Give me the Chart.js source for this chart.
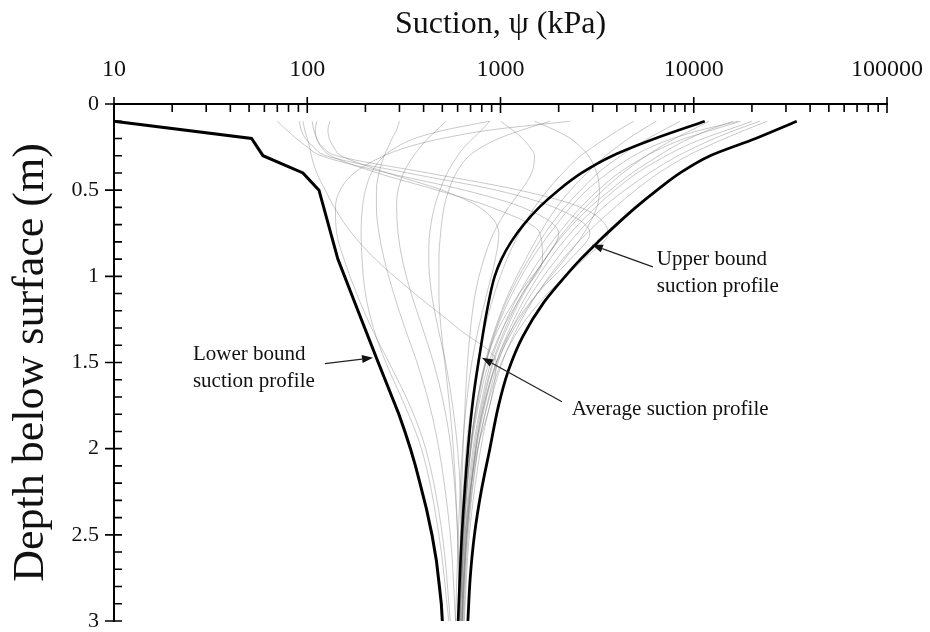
<!DOCTYPE html>
<html>
<head>
<meta charset="utf-8">
<script src="https://cdn.jsdelivr.net/npm/chart.js@4/dist/chart.umd.min.js"></script>
<style>
  html, body { margin: 0; padding: 0; background: #fff; }
  #wrap { width: 930px; height: 632px; position: relative; }
</style>
</head>
<body>
<div id="wrap"><canvas id="c"></canvas></div>
<script>
// Suction (kPa) versus depth (m) profiles.
const xTickValues = [10, 100, 1000, 10000, 100000];
const yTickValues = [0, 0.5, 1, 1.5, 2, 2.5, 3];

// Lower bound envelope
const lowerDepth   = [0.1, 0.2, 0.3, 0.4, 0.5, 0.9, 1.2, 1.5, 1.8, 1.9, 2.0, 2.1, 2.2, 2.35, 2.5, 2.65, 2.8, 2.9, 3.0];
const lowerSuction = [10, 51.5, 59, 95, 115, 144, 183, 233, 298, 320, 342, 363, 383, 414, 442, 466, 483, 494, 500];

// Average profile
const avgDepth   = [0.1, 0.2, 0.3, 0.4, 0.5, 0.6, 0.7, 0.8, 0.9, 1.0, 1.2, 1.4, 1.7, 2.0, 2.5, 3.0];
const avgSuction = [11400, 6310, 3800, 2630, 1995, 1585, 1318, 1135, 1012, 933, 851, 794, 724, 679, 631, 603];

// Upper bound envelope
const upperDepth   = [0.1, 0.2, 0.3, 0.4, 0.5, 0.6, 0.7, 0.8, 0.9, 1.0, 1.15, 1.35, 1.55, 1.75, 2.0, 2.25, 2.5, 2.75, 3.0];
const upperSuction = [34120, 20890, 12160, 8510, 6457, 5012, 3981, 3199, 2600, 2163, 1679, 1303, 1096, 977, 881, 794, 733, 697, 678];

// Individual computed profiles, all sampled at the same depths
const profileDepth = [0.1, 0.15, 0.2, 0.25, 0.3, 0.4, 0.5, 0.6, 0.75, 0.9, 1.1, 1.3, 1.5, 1.75, 2.0, 2.5, 3.0];
const profiles = [
  [24000, 18500, 14500, 11500, 9300, 6600, 5000, 3900, 2800, 2100, 1550, 1220, 1020, 880, 790, 690, 650],
  [20000, 15000, 11200, 8800, 7200, 5100, 3900, 3100, 2300, 1800, 1380, 1120, 950, 830, 750, 670, 635],
  [17500, 12500, 9000, 7000, 5700, 4100, 3200, 2600, 2000, 1600, 1250, 1030, 890, 790, 720, 655, 625],
  [17000, 11000, 7800, 6000, 4900, 3600, 2800, 2300, 1800, 1450, 1150, 960, 840, 750, 700, 645, 620],
  [16000, 12000, 9500, 7800, 6600, 4800, 3700, 2900, 2150, 1700, 1300, 1060, 910, 800, 730, 660, 630],
  [8500, 7000, 5800, 4900, 4200, 3200, 2600, 2150, 1700, 1400, 1120, 950, 840, 760, 700, 645, 615],
  [6400, 5400, 4600, 4000, 3500, 2800, 2300, 1950, 1600, 1350, 1100, 940, 830, 750, 695, 640, 612],
  [4900, 4100, 3500, 3000, 2600, 2100, 1750, 1500, 1250, 1080, 930, 830, 760, 705, 665, 625, 600],
  [12000, 9800, 8000, 6700, 5700, 4300, 3400, 2750, 2100, 1700, 1320, 1080, 920, 810, 740, 665, 632],
  [22000, 16500, 12800, 10200, 8300, 5900, 4400, 3400, 2500, 1950, 1450, 1150, 970, 850, 765, 680, 645],
  [300, 290, 275, 262, 250, 235, 228, 228, 235, 250, 280, 320, 370, 430, 480, 550, 585],
  [520, 470, 420, 385, 355, 315, 295, 290, 295, 310, 345, 395, 450, 510, 555, 600, 615],
  [880, 800, 720, 650, 600, 530, 485, 455, 430, 425, 440, 475, 520, 565, 600, 630, 635],
  [880, 520, 360, 290, 250, 215, 200, 193, 190, 192, 200, 220, 255, 320, 390, 480, 540],
  [1800, 1300, 980, 800, 690, 590, 540, 510, 490, 480, 480, 492, 515, 545, 570, 600, 610],
  [2300, 900, 500, 330, 250, 175, 148, 140, 142, 155, 180, 215, 265, 340, 410, 500, 550],
  [1000, 1150, 1300, 1420, 1500, 1450, 1280, 1100, 920, 820, 740, 700, 675, 655, 640, 620, 605],
  [1500, 1900, 2300, 2600, 2850, 3150, 3250, 3150, 2700, 2150, 1550, 1180, 960, 820, 745, 670, 640],
  [70, 78, 88, 100, 118, 260, 650, 1300, 2000, 1700, 1250, 980, 840, 750, 700, 640, 612],
  [91, 93, 98, 108, 125, 330, 950, 1900, 2900, 2300, 1550, 1150, 950, 820, 745, 665, 628],
  [106, 108, 112, 118, 132, 230, 470, 900, 1600, 1650, 1300, 1030, 870, 770, 705, 648, 616],
  [112, 110, 112, 120, 142, 420, 1250, 2600, 3600, 2700, 1750, 1260, 1010, 855, 765, 672, 632],
  [131, 128, 130, 137, 150, 260, 500, 780, 980, 940, 850, 770, 710, 665, 635, 605, 585],
  [95, 97, 100, 103, 105, 112, 124, 138, 170, 225, 360, 600, 950, 880, 760, 655, 614]
];

const FONT = '"Liberation Serif", "Times New Roman", "DejaVu Serif", serif';
const INK = '#111';

const pairs = (xs, ys) => xs.map((v, i) => ({ x: v, y: ys[i] }));

// Labelled arrows: text anchor, arrow tail and arrow tip in data units
const callouts = [
  { lines: ['Lower bound', 'suction profile'], at: [25.6, 1.455], tail: [123.5, 1.507], tip: [219, 1.472] },
  { lines: ['Upper bound', 'suction profile'], at: [6440, 0.904], tail: [6140, 0.945], tip: [2970, 0.817] },
  { lines: ['Average suction profile'], at: [2340, 1.774], tail: [2080, 1.728], tip: [802, 1.472] }
];

// Major ticks crossing the axes, minor ticks pointing into the plot
const axisTicks = {
  id: 'axisTicks',
  afterDraw(chart) {
    const { ctx, chartArea: a } = chart;
    const xs = chart.scales.x, ys = chart.scales.y;
    ctx.save();
    ctx.strokeStyle = '#000';
    ctx.lineWidth = 1.6;
    ctx.beginPath();
    for (let e = 1; e <= 5; e++) {
      for (let k = 1; k <= 9; k++) {
        const v = k * Math.pow(10, e);
        if (v > 100000) break;
        const px = xs.getPixelForValue(v);
        if (k === 1) { ctx.moveTo(px, a.top - 7); ctx.lineTo(px, a.top + 9); }
        else { ctx.moveTo(px, a.top); ctx.lineTo(px, a.top + 8); }
      }
    }
    for (let i = 0; i <= 30; i++) {
      const d = i / 10;
      const py = ys.getPixelForValue(d);
      if (i % 5 === 0) { ctx.moveTo(a.left - 9, py); ctx.lineTo(a.left + 8, py); }
      else { ctx.moveTo(a.left, py); ctx.lineTo(a.left + 8, py); }
    }
    ctx.stroke();
    ctx.restore();
  }
};

const arrowNotes = {
  id: 'arrowNotes',
  afterDatasetsDraw(chart) {
    const { ctx } = chart;
    const xs = chart.scales.x, ys = chart.scales.y;
    ctx.save();
    ctx.fillStyle = INK;
    ctx.strokeStyle = '#222';
    ctx.lineWidth = 1.3;
    ctx.font = '21px ' + FONT;
    ctx.textAlign = 'left';
    ctx.textBaseline = 'middle';
    callouts.forEach(c => {
      const tx = xs.getPixelForValue(c.at[0]);
      const ty = ys.getPixelForValue(c.at[1]);
      c.lines.forEach((t, i) => ctx.fillText(t, tx, ty + i * 27));
      const x0 = xs.getPixelForValue(c.tail[0]), y0 = ys.getPixelForValue(c.tail[1]);
      const x1 = xs.getPixelForValue(c.tip[0]), y1 = ys.getPixelForValue(c.tip[1]);
      const ang = Math.atan2(y1 - y0, x1 - x0);
      const hl = 11, hw = 4;
      const bx = x1 - hl * Math.cos(ang), by = y1 - hl * Math.sin(ang);
      ctx.beginPath();
      ctx.moveTo(x0, y0);
      ctx.lineTo(bx, by);
      ctx.stroke();
      ctx.beginPath();
      ctx.moveTo(x1, y1);
      ctx.lineTo(bx + hw * Math.sin(ang), by - hw * Math.cos(ang));
      ctx.lineTo(bx - hw * Math.sin(ang), by + hw * Math.cos(ang));
      ctx.closePath();
      ctx.fill();
    });
    ctx.restore();
  }
};

const datasets = profiles.map(p => ({
  data: pairs(p, profileDepth),
  borderColor: 'rgba(120,120,120,0.5)',
  borderWidth: 0.8,
  pointRadius: 0,
  cubicInterpolationMode: 'monotone',
  clip: false,
  order: 1
}));
datasets.push(
  { data: pairs(lowerSuction, lowerDepth), borderColor: '#000', borderWidth: 3, pointRadius: 0, tension: 0, clip: false, order: 0 },
  { data: pairs(avgSuction, avgDepth), borderColor: '#000', borderWidth: 2.6, pointRadius: 0, cubicInterpolationMode: 'monotone', clip: false, order: 0 },
  { data: pairs(upperSuction, upperDepth), borderColor: '#000', borderWidth: 2.8, pointRadius: 0, cubicInterpolationMode: 'monotone', clip: false, order: 0 }
);

new Chart(document.getElementById('c'), {
  type: 'line',
  data: { datasets },
  plugins: [axisTicks, arrowNotes],
  options: {
    responsive: true,
    maintainAspectRatio: false,
    animation: false,
    events: [],
    indexAxis: 'y',
    layout: { padding: { left: 0, top: 0, right: 43, bottom: 11 } },
    plugins: { legend: { display: false }, tooltip: { enabled: false } },
    scales: {
      x: {
        type: 'logarithmic',
        position: 'top',
        min: 10,
        max: 100000,
        afterBuildTicks: s => { s.ticks = xTickValues.map(v => ({ value: v })); },
        afterFit: s => { s.height = 104; s.paddingLeft = 0; s.paddingRight = 0; },
        ticks: { callback: v => String(v), font: { family: FONT, size: 24 }, color: INK, padding: 20, maxRotation: 0, autoSkip: false },
        grid: { display: false, drawTicks: false },
        border: { display: true, color: '#000', width: 2 },
        title: { display: true, text: 'Suction, ψ (kPa)', font: { family: FONT, size: 32 }, color: INK, padding: { top: 5, bottom: 0 } }
      },
      y: {
        type: 'linear',
        position: 'left',
        reverse: true,
        min: 0,
        max: 3,
        afterBuildTicks: s => { s.ticks = yTickValues.map(v => ({ value: v })); },
        afterFit: s => { s.width = 114; s.paddingTop = 0; s.paddingBottom = 0; },
        ticks: { callback: v => String(v), font: { family: FONT, size: 22 }, color: INK, padding: 15 },
        grid: { display: false, drawTicks: false },
        border: { display: true, color: '#000', width: 2 },
        title: { display: true, text: 'Depth below surface (m)', font: { family: FONT, size: 44 }, color: INK, padding: { top: 5, bottom: 0 } }
      }
    }
  }
});
</script>
</body>
</html>
